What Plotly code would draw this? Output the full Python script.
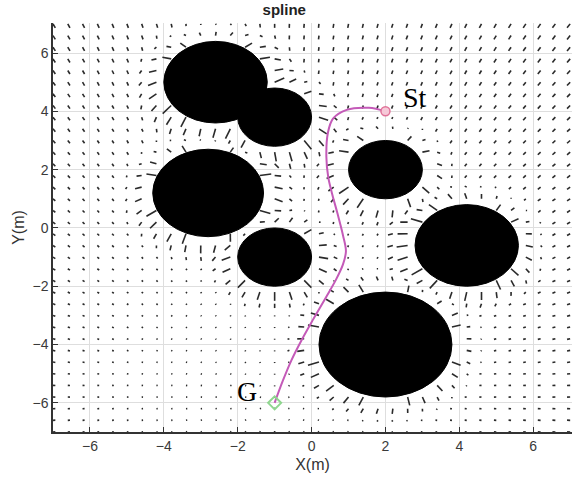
import numpy as np
import plotly.graph_objects as go

# Circular obstacles (centre x, centre y, radius) in metres
obs_x = [-2.6, -1.0, -2.8, -1.0, 2.0, 4.2, 2.0]
obs_y = [5.0, 3.8, 1.2, -1.0, 2.0, -0.6, -4.0]
obs_r = [1.4, 1.0, 1.5, 1.0, 1.0, 1.4, 1.8]

# Start and goal
start = (2.0, 4.0)
goal = (-1.0, -6.0)

# Spline waypoints of the planned path (start -> goal)
path_x = [2.0, 1.55, 0.95, 0.58, 0.44, 0.40, 0.45, 0.55, 0.70, 0.85, 0.93,
          0.85, 0.65, 0.38, 0.06, -0.25, -0.55, -0.78, -1.0]
path_y = [4.0, 4.12, 4.05, 3.75, 3.25, 2.45, 1.75, 1.2, 0.5, -0.25, -0.8,
          -1.25, -1.8, -2.4, -3.1, -3.8, -4.55, -5.25, -6.0]

# Potential-field sampling grid
grid_step = 0.4
grid_vals = np.round(np.arange(-7.0, 7.0 + 1e-9, grid_step), 3)

k_att = 0.0105      # attractive gain toward the goal
rep_amp = 0.34      # repulsive amplitude at an obstacle surface
rep_range = 1.0     # influence distance of each obstacle
max_len = 0.36      # cap on the drawn vector length

qx, qy = [], []
for gx in grid_vals:
    for gy in grid_vals:
        inside = False
        vx = -k_att * (gx - goal[0])
        vy = -k_att * (gy - goal[1])
        for cx, cy, r in zip(obs_x, obs_y, obs_r):
            dx, dy = gx - cx, gy - cy
            dist = np.hypot(dx, dy)
            d = dist - r
            if d <= 0.02:
                inside = True
                break
            if d < rep_range:
                m = rep_amp * (1.0 - d / rep_range) ** 1.2
                vx += m * dx / dist
                vy += m * dy / dist
        if inside:
            continue
        L = np.hypot(vx, vy)
        if L > max_len:
            vx, vy = vx * max_len / L, vy * max_len / L
        if L < 0.035:
            s = 0.035 / max(L, 1e-9)
            vx, vy = vx * s, vy * s
        qx += [gx, gx + vx, None]
        qy += [gy, gy + vy, None]

fig = go.Figure()

fig.add_trace(go.Scatter(
    x=qx, y=qy, mode="lines",
    line=dict(color="#2a2a2a", width=1.6),
    hoverinfo="skip", showlegend=False,
))

fig.add_trace(go.Scatter(
    x=path_x, y=path_y, mode="lines",
    line=dict(color="#c45ab8", width=2, shape="spline", smoothing=1.0),
    showlegend=False,
))

fig.add_trace(go.Scatter(
    x=[start[0]], y=[start[1]], mode="markers",
    marker=dict(symbol="circle", size=9, color="#f6c9d8",
                line=dict(color="#e07399", width=1.5)),
    showlegend=False,
))
fig.add_trace(go.Scatter(
    x=[goal[0]], y=[goal[1]], mode="markers",
    marker=dict(symbol="diamond-open", size=10, color="#8fd68f",
                line=dict(color="#8fd68f", width=2)),
    showlegend=False,
))

for cx, cy, r in zip(obs_x, obs_y, obs_r):
    fig.add_shape(type="circle", xref="x", yref="y",
                  x0=cx - r, x1=cx + r, y0=cy - r, y1=cy + r,
                  fillcolor="black", line=dict(color="black", width=1),
                  layer="above")

fig.add_annotation(x=2.8, y=4.49, text="St", showarrow=False,
                   font=dict(family="Liberation Serif", size=28, color="black"))
fig.add_annotation(x=-1.74, y=-5.62, text="G", showarrow=False,
                   font=dict(family="Liberation Serif", size=28, color="black"))

axis_common = dict(
    showgrid=True, gridcolor="#dedede", gridwidth=1,
    zeroline=False, showline=True, linecolor="#333333", linewidth=1.5,
    ticks="inside", ticklen=5, tickcolor="#333333",
    tickfont=dict(family="Liberation Sans", size=14, color="#3a3a3a"),
    tickvals=[-6, -4, -2, 0, 2, 4, 6], mirror=False,
)

fig.update_layout(
    width=572, height=487,
    margin=dict(l=53, r=0, t=23, b=55),
    paper_bgcolor="white", plot_bgcolor="white",
    title=dict(text="<b>spline</b>", x=0.497, xanchor="center",
               y=0.979, yanchor="middle",
               font=dict(family="Liberation Sans", size=15, color="#222222")),
    xaxis=dict(range=[-7, 7.05],
               title=dict(text="X(m)", standoff=6,
                          font=dict(family="Liberation Sans", size=16, color="#333333")),
               **axis_common),
    yaxis=dict(range=[-7, 7.03],
               title=dict(text="Y(m)", standoff=4,
                          font=dict(family="Liberation Sans", size=16, color="#333333")),
               **axis_common),
)

fig.write_html("out.html")
